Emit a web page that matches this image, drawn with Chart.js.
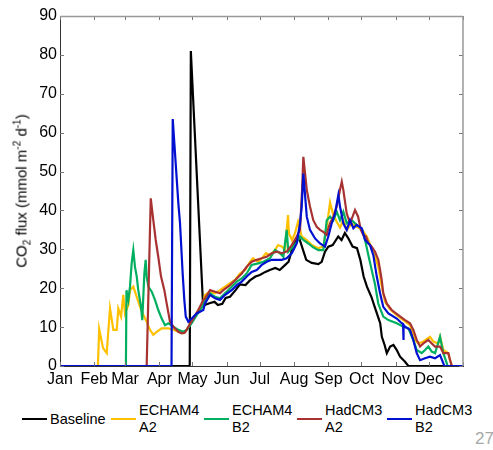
<!DOCTYPE html>
<html>
<head>
<meta charset="utf-8">
<script src="https://cdn.jsdelivr.net/npm/chart.js@4.4.1/dist/chart.umd.min.js"></script>
<style>
  body { margin: 0; background: #fff; font-family: "Liberation Sans", Arial, sans-serif; }
  #wrap { position: relative; width: 493px; height: 450px; overflow: hidden; }
  #chartBox { position: absolute; left: 0; top: 0; width: 493px; height: 390px; }
  #yTitle {
    position: absolute; left: 21px; top: 191px;
    transform: translate(-50%, -50%) rotate(-90deg);
    white-space: nowrap; font-size: 15px; color: #000;
  }
  #yTitle sub, #yTitle sup { font-size: 10px; line-height: 0; }
  #legend { position: absolute; left: 0; top: 401px; width: 493px; height: 36px; font-size: 14.5px; line-height: 17px; color: #000; }
  .item { position: absolute; top: 0; height: 36px; display: flex; align-items: center; }
  .swatch { width: 25px; height: 2.5px; margin-right: 3px; }
  #pageNo { position: absolute; left: 475px; top: 429px; font-size: 17px; color: #a8a8a8; }
</style>
</head>
<body>
<div id="wrap">
  <div id="chartBox"><canvas id="fluxChart"></canvas></div>
  <div id="yTitle">CO<sub>2</sub> flux (mmol m<sup>-2</sup> d<sup>-1</sup>)</div>
  <div id="legend"></div>
  <div id="pageNo">27</div>
</div>
<script>
// month start (day of year) and labels for the x axis
const monthStarts = [0, 31, 59, 90, 120, 151, 181, 212, 243, 273, 304, 334, 365];
const monthLabels = ["Jan", "Feb", "Mar", "Apr", "May", "Jun", "Jul", "Aug", "Sep", "Oct", "Nov", "Dec"];

// Baseline
const baselineDays = [0, 117.5, 118.5, 129.5, 131, 136, 140, 143, 147, 150, 154, 159, 163, 168, 172, 177, 181, 186, 190, 195,
  199, 204, 207, 210, 213, 216.5, 223, 228, 234, 237, 240, 243, 247, 252, 255, 258, 261, 265, 269, 272,
  275, 278, 282, 285, 288, 290, 291.5, 294, 296, 299, 302, 305, 308, 312.5, 315.5, 365];
const baselineFlux = [0, 0, 81, 16, 15.7, 16.2, 16.5, 15.7, 16, 17.5, 17.8, 19.5, 21, 20.8, 22, 23, 23.4, 24.2, 24.7, 25.2,
  24.7, 26, 26.8, 29.8, 32, 33, 27.3, 26.5, 26.2, 26.8, 29.4, 30.7, 31.1, 33.3, 32.4, 34.2, 32.9, 30.7, 30.3, 27.3,
  23, 20.4, 17.8, 15.2, 12.7, 11, 7.5, 5.4, 3.3, 5, 5.4, 4.1, 2.4, 1.1, 0, 0];

// ECHAM4 A2
const echamA2Days = [0, 34.3, 35.5, 39, 42.3, 45.3, 48.3, 51.4, 52.8, 55.3, 57.3, 58.9, 61.9, 63.4, 66.4, 69.5, 72.5, 75.5, 78.5, 81.5,
  84.5, 87.6, 92.1, 98.1, 102.6, 107.2, 111.7, 114.8, 119.3, 125.3, 129.8, 131.3, 135.9, 140.4, 144.9, 149.5, 154, 158.5, 163, 167.6,
  172.1, 174.8, 179.3, 183, 186.6, 190.2, 194.7, 197.5, 201.1, 203.8, 206.5, 207.4, 210.1, 212.9, 215.6, 218.9, 223.5, 228, 234, 238.5,
  241.6, 244.6, 247.6, 250.6, 253.6, 256.6, 259.7, 264.2, 268.7, 273.3, 277.8, 283.8, 288.3, 291.4, 294.4, 298.9, 305, 311, 317, 321.6,
  324.5, 329.1, 335.1, 338.1, 342.7, 344.2, 347.2, 351.7, 353.3, 355, 365];
const echamA2Flux = [0, 0, 9.5, 4.6, 3.3, 14.8, 9.3, 9.3, 14.8, 12.7, 18.3, 13.5, 15.7, 19.5, 20.4, 17.8, 15.2, 13.1, 11.4, 9.3,
  8, 8.8, 9.7, 9.7, 9.3, 8.8, 8.4, 9.3, 11.4, 14.4, 16.5, 18.3, 19.1, 18.7, 19.5, 20.4, 21.3, 22.1, 23.8, 24.7,
  26.8, 27.7, 26.8, 27.7, 29, 28.5, 29.8, 31.1, 30.7, 29.8, 38.8, 34, 32.4, 34.2, 37.1, 33.3, 32.4, 31.1, 30.3, 30.7,
  35.8, 42, 38.8, 37.1, 35.6, 37.5, 35, 36.7, 35.8, 35.2, 33.3, 29.4, 25.5, 20.5, 16.5, 14.6, 13.1, 11.8, 10.5, 6.7,
  5.8, 6.3, 7.5, 6.3, 5.8, 7.5, 4.1, 3.3, 1.5, 0, 0];

// ECHAM4 B2
const echamB2Days = [0, 59.7, 60.2, 61.9, 63.4, 64.9, 66.4, 67.9, 69.5, 70.9, 73.4, 74.5, 76.4, 77.6, 78.5, 80, 83.1, 86, 89, 92.1,
  95.1, 98.1, 102.6, 107.2, 111.7, 114.8, 119.3, 123.8, 129.8, 131.3, 135.9, 140.4, 144.9, 149.5, 155.5, 160.1, 164.6, 169.1, 173.6, 179.6,
  184.1, 190.2, 194.7, 199.3, 202.3, 205.3, 206.8, 211.3, 215.8, 217.4, 220.4, 224.9, 229.4, 234, 238.5, 241.6, 244.6, 247.6, 250.6, 253.6,
  256.6, 259.7, 264.2, 268.7, 273.3, 276.3, 279.3, 282.3, 285.3, 288.3, 292.8, 297.4, 305, 311, 315.5, 320, 323.1, 327.6, 330.6, 333.6,
  336.7, 339.7, 344.2, 347.2, 350.3, 351, 365];
const echamB2Flux = [0, 0, 19.5, 17, 20.4, 26.4, 29.8, 25.5, 23, 19.5, 15.2, 11.8, 23.8, 27.3, 23, 20.4, 19.1, 17, 14.4, 12.2,
  10.5, 11, 10.1, 9.3, 8.8, 9.3, 11, 13.1, 15.7, 17, 18.7, 17.8, 17.4, 18.7, 20.4, 21.7, 22.5, 23.8, 26, 26.4,
  26.8, 27.7, 29.8, 29, 28.1, 35, 29.4, 30.7, 32.4, 33.3, 32.4, 31.5, 30.5, 29.8, 29.8, 37.5, 38.4, 37.5, 39.7, 37.5,
  39.7, 36.7, 37.5, 36.3, 35.4, 32.4, 28.5, 24.7, 21, 16, 12.7, 11.8, 11, 10.1, 9.7, 6.7, 4.1, 3.3, 4.1, 5,
  3.7, 3.3, 7.5, 3.3, 0.7, 0, 0];

// HadCM3 A2
const hadA2Days = [0, 78.5, 82.2, 84.5, 86.7, 89, 91.5, 94.5, 96.6, 99.6, 102.6, 107.2, 110.2, 113.2, 116.2, 120.7, 125.3, 129.8, 131.3, 135.9,
  140.4, 144.9, 147.9, 154, 160.1, 164.6, 169.1, 173.6, 178.2, 182.7, 187.2, 191.8, 196.3, 200.8, 205.3, 209.9, 214.4, 217.4, 219.2, 220.4,
  223.5, 226.4, 229.4, 232.5, 235.5, 238.5, 241.6, 243, 244.6, 247.6, 250.6, 253.6, 255.2, 256.6, 259.7, 262.7, 267.2, 270, 272.5, 274.7,
  277.2, 279.3, 282.3, 285.3, 288.3, 289.9, 291.4, 292.8, 295.9, 300.4, 306.4, 312.5, 317, 320, 323.1, 326.1, 329.1, 333.6, 336.7, 339.7,
  344.2, 347.2, 351.7, 353.3, 354.8, 365];
const hadA2Flux = [0, 0, 43.1, 37.5, 32.4, 28.1, 23, 19.5, 16.1, 11.4, 10.1, 8.8, 8.4, 8.6, 10.1, 12.2, 14.4, 17, 17.4, 19.5,
  19.1, 18.7, 19.5, 20.8, 22.5, 23.8, 25.5, 26.8, 27.3, 27.7, 28.1, 29, 29.4, 29, 29.4, 31.1, 33.3, 35, 45, 53.8,
  45.3, 41, 37.5, 35.8, 35, 34.5, 33.7, 35.4, 36.7, 38.4, 41, 45.3, 47.4, 45.3, 39.2, 36.7, 40.1, 38.4, 35, 33.7,
  33.3, 31.5, 30.7, 29.4, 27.3, 24.7, 22.1, 18.7, 16.1, 14.4, 13.1, 11.8, 11, 9.3, 6.7, 5, 5.8, 6.7, 5.8, 5,
  5, 3.3, 3.3, 1.5, 0, 0];

// HadCM3 B2
const hadB2Days = [0, 101, 102.1, 107.2, 108.7, 111.1, 112.6, 113.9, 116.2, 119.3, 123.8, 129.8, 131.3, 135.9, 140.4, 144.9, 149.5, 155.5, 160.1, 164.6,
  169.1, 173.6, 178.2, 182.7, 187.2, 191.8, 196.3, 200.8, 205.3, 209.9, 214.4, 217.4, 218.9, 220.4, 223.5, 226.4, 231, 235.5, 240, 243,
  246.1, 249.1, 252.1, 253.6, 256.6, 259.7, 262.7, 265.7, 268.7, 273.3, 276.3, 280.8, 283.8, 286.9, 289.9, 292.8, 297.4, 305, 309.5, 310.7,
  311, 311.3, 312.5, 317, 320, 323.1, 326.1, 330.6, 335.1, 339.7, 344.2, 347.2, 348, 365];
const hadB2Flux = [0, 0, 63.5, 41.8, 36.7, 23.8, 17, 12.7, 11.4, 12.2, 13.5, 14.4, 16.1, 18.3, 17.4, 17, 18.3, 19.5, 20.8, 21.7,
  23, 24.2, 24.7, 26, 26.8, 27.3, 27.3, 27.3, 27.7, 29, 31.5, 36.7, 41, 49.5, 38.4, 35, 32.8, 31.5, 30.7, 33.3,
  36.7, 39.2, 44, 41, 36.7, 35, 37.5, 35.4, 36.3, 35.4, 32.4, 31.1, 28.5, 23, 18.7, 15.2, 13.5, 12.2, 11, 10.8,
  6.7, 10.5, 10.1, 9.3, 6.7, 3.3, 1.5, 2, 2.4, 2, 2.8, 0.7, 0, 0];

const seriesNames = [["Baseline"], ["ECHAM4", "A2"], ["ECHAM4", "B2"], ["HadCM3", "A2"], ["HadCM3", "B2"]];
const seriesColors = ["#000000", "#ffc000", "#00b060", "#a83232", "#0010d0"];
const seriesDays = [baselineDays, echamA2Days, echamB2Days, hadA2Days, hadB2Days];
const seriesFlux = [baselineFlux, echamA2Flux, echamB2Flux, hadA2Flux, hadB2Flux];
const legendLefts = [22, 111, 204, 297, 387];

Chart.defaults.font.family = '"Liberation Sans", Arial, sans-serif';
Chart.defaults.color = "#000";

// later series sit on top of earlier ones (lower order = drawn last)
const datasets = seriesNames.map(function (name, i) {
  return {
    label: name.join(" "),
    data: seriesDays[i].map((d, k) => ({ x: d, y: seriesFlux[i][k] })),
    borderColor: seriesColors[i],
    backgroundColor: seriesColors[i],
    borderWidth: 2.2,
    pointRadius: 0,
    tension: 0,
    order: seriesNames.length - i
  };
});

// inward tick marks on all four sides plus the top/right box edges
const boxTicks = {
  id: "boxTicks",
  afterDraw(chart) {
    const { ctx, chartArea: a, scales: { x, y } } = chart;
    ctx.save();
    ctx.lineWidth = 1;
    ctx.strokeStyle = "#777";
    ctx.beginPath();
    x.ticks.forEach(t => {
      const px = Math.round(x.getPixelForValue(t.value)) + 0.5;
      ctx.moveTo(px, a.bottom); ctx.lineTo(px, a.bottom - 4);
      ctx.moveTo(px, a.top); ctx.lineTo(px, a.top + 4);
    });
    y.ticks.forEach(t => {
      const py = Math.round(y.getPixelForValue(t.value)) + 0.5;
      ctx.moveTo(a.left, py); ctx.lineTo(a.left + 4, py);
      ctx.moveTo(a.right, py); ctx.lineTo(a.right - 4, py);
    });
    ctx.stroke();
    ctx.strokeStyle = "#999";
    ctx.lineWidth = 1.5;
    ctx.beginPath();
    ctx.moveTo(a.left, a.top + 0.5); ctx.lineTo(a.right, a.top + 0.5);
    ctx.moveTo(a.right, a.top); ctx.lineTo(a.right, a.bottom);
    ctx.stroke();
    ctx.restore();
  }
};

var ctx = document.getElementById("fluxChart").getContext("2d");
var fluxChart = new Chart(ctx, {
  type: "line",
  data: { datasets: datasets },
  options: {
    responsive: true,
    maintainAspectRatio: false,
    animation: false,
    layout: { padding: { top: 16, right: 30, left: 0, bottom: 0 } },
    plugins: { legend: { display: false }, tooltip: { enabled: false } },
    scales: {
      x: {
        type: "linear",
        min: 0,
        max: 365,
        afterBuildTicks: scale => { scale.ticks = monthStarts.map(v => ({ value: v })); },
        afterFit: scale => { scale.height = 24; },
        grid: { display: false, drawTicks: false },
        border: { display: true, color: "#333", width: 1 },
        ticks: {
          autoSkip: false,
          maxRotation: 0,
          padding: 4,
          font: { size: 16 },
          callback: function (value) {
            const i = monthStarts.indexOf(value);
            return i >= 0 && i < monthLabels.length ? monthLabels[i] : "";
          }
        }
      },
      y: {
        min: 0,
        max: 90,
        afterFit: scale => { scale.width = 60; },
        grid: { display: false, drawTicks: false },
        border: { display: true, color: "#333", width: 1 },
        ticks: { stepSize: 10, padding: 3, font: { size: 16 } }
      }
    }
  },
  plugins: [boxTicks]
});

// legend below the plot
const legendBox = document.getElementById("legend");
seriesNames.forEach(function (name, i) {
  const item = document.createElement("div");
  item.className = "item";
  item.style.left = legendLefts[i] + "px";
  const sw = document.createElement("span");
  sw.className = "swatch";
  sw.style.background = seriesColors[i];
  const txt = document.createElement("span");
  txt.innerHTML = name.join("<br>");
  item.appendChild(sw);
  item.appendChild(txt);
  legendBox.appendChild(item);
});
</script>
</body>
</html>
